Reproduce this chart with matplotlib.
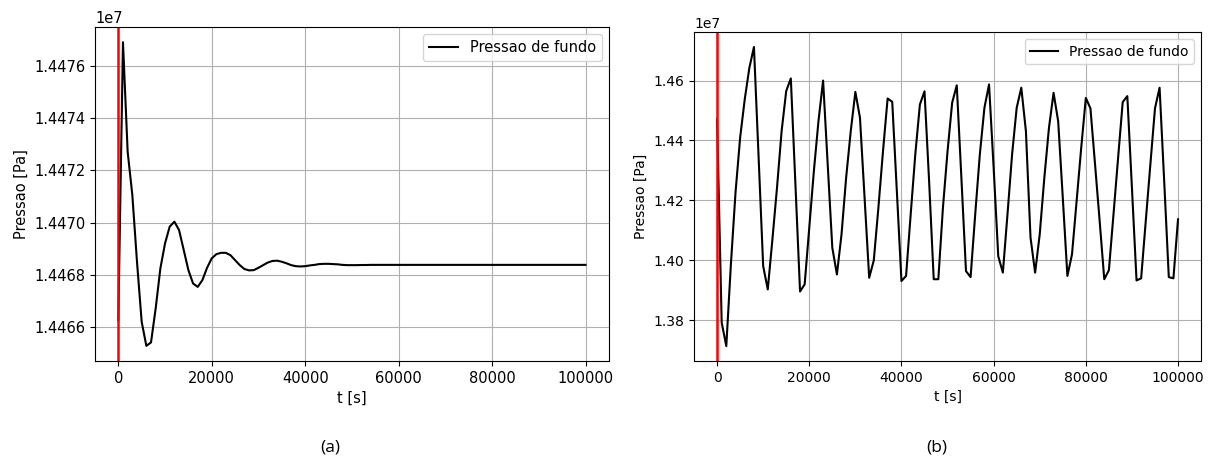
import matplotlib
matplotlib.use("Agg")
import matplotlib.pyplot as plt
import numpy as np

# time grid of the simulation output [s]
t_a = list(range(0, 100001, 1000))
t_b = list(range(0, 100001, 1000))

# (a) bottom hole pressure, damped case [Pa]
pressao_a = [
    14466280, 14476890, 14472710, 14471060, 14468510, 14466220, 14465300, 14465430, 14466730, 14468250,
    14469210, 14469850, 14470040, 14469720, 14468960, 14468190, 14467680, 14467550, 14467810, 14468280,
    14468640, 14468800, 14468850, 14468850, 14468760, 14468570, 14468380, 14468230, 14468180, 14468190,
    14468280, 14468380, 14468480, 14468540, 14468550, 14468510, 14468450, 14468380, 14468340, 14468330,
    14468340, 14468370, 14468390, 14468420, 14468430, 14468430, 14468420, 14468410, 14468390, 14468380,
    14468380, 14468380, 14468385, 14468385, 14468390, 14468390, 14468390, 14468390, 14468390, 14468390,
    14468390, 14468390, 14468390, 14468390, 14468390, 14468390, 14468390, 14468390, 14468390, 14468390,
    14468390, 14468390, 14468390, 14468390, 14468390, 14468390, 14468390, 14468390, 14468390, 14468390,
    14468390, 14468390, 14468390, 14468390, 14468390, 14468390, 14468390, 14468390, 14468390, 14468390,
    14468390, 14468390, 14468390, 14468390, 14468390, 14468390, 14468390, 14468390, 14468390, 14468390,
    14468390,
]

# (b) bottom hole pressure, oscillating case [Pa]
pressao_b = [
    14470000, 13792000, 13714000, 13987000, 14226000, 14409000, 14537000, 14642000, 14712000, 14348000,
    13981000, 13903000, 14069000, 14242000, 14431000, 14565000, 14607000, 14253000, 13896000, 13920000,
    14109000, 14298000, 14465000, 14600000, 14320000, 14042000, 13953000, 14087000, 14276000, 14431000,
    14562000, 14476000, 14209000, 13942000, 14000000, 14176000, 14365000, 14540000, 14529000, 14231000,
    13931000, 13948000, 14153000, 14353000, 14520000, 14564000, 14264000, 13937000, 13937000, 14176000,
    14364000, 14526000, 14584000, 14276000, 13964000, 13944000, 14153000, 14353000, 14509000, 14587000,
    14309000, 14014000, 13959000, 14153000, 14353000, 14509000, 14576000, 14431000, 14076000, 13959000,
    14087000, 14276000, 14442000, 14559000, 14464000, 14209000, 13948000, 14020000, 14198000, 14376000,
    14542000, 14507000, 14320000, 14131000, 13937000, 13967000, 14153000, 14342000, 14528000, 14548000,
    14242000, 13933000, 13940000, 14131000, 14320000, 14507000, 14576000, 14264000, 13944000, 13940000,
    14137000,
]

t_evento = 0

fig = plt.figure(figsize=(12.11, 4.62), dpi=100)

# left panel
ax1 = fig.add_axes([0.0784, 0.2186, 0.4244, 0.7229])
ax1.plot(t_a, pressao_a, color="k", label="Pressao de fundo")
ax1.axvline(t_evento, color="r", linewidth=1.8)
ax1.ticklabel_format(axis="y", useOffset=False)
ax1.grid(True)
ax1.legend(loc="upper right", fontsize=10.5)
ax1.set_xlabel("t [s]", fontsize=10.5)
ax1.set_ylabel("Pressao [Pa]", fontsize=10.5)
ax1.tick_params(labelsize=10.5)
ax1.yaxis.get_offset_text().set_fontsize(10.5)

# right panel
ax2 = fig.add_axes([0.5731, 0.2186, 0.4187, 0.7121])
ax2.plot(t_b, pressao_b, color="k", label="Pressao de fundo")
ax2.axvline(t_evento, color="r", linewidth=1.8)
ax2.ticklabel_format(axis="y", useOffset=False)
ax2.grid(True)
ax2.legend(loc="upper right", fontsize=10)
ax2.set_xlabel("t [s]", fontsize=10)
ax2.set_ylabel("Pressao [Pa]", fontsize=10)
ax2.tick_params(labelsize=10)

# figure captions
fig.text(330 / 1211, 1 - 447 / 462, "(a)", ha="center", va="center", fontsize=12.5, family="Open Sans")
fig.text(937 / 1211, 1 - 447 / 462, "(b)", ha="center", va="center", fontsize=12.5, family="Open Sans")

plt.savefig("out.png", dpi=100)
